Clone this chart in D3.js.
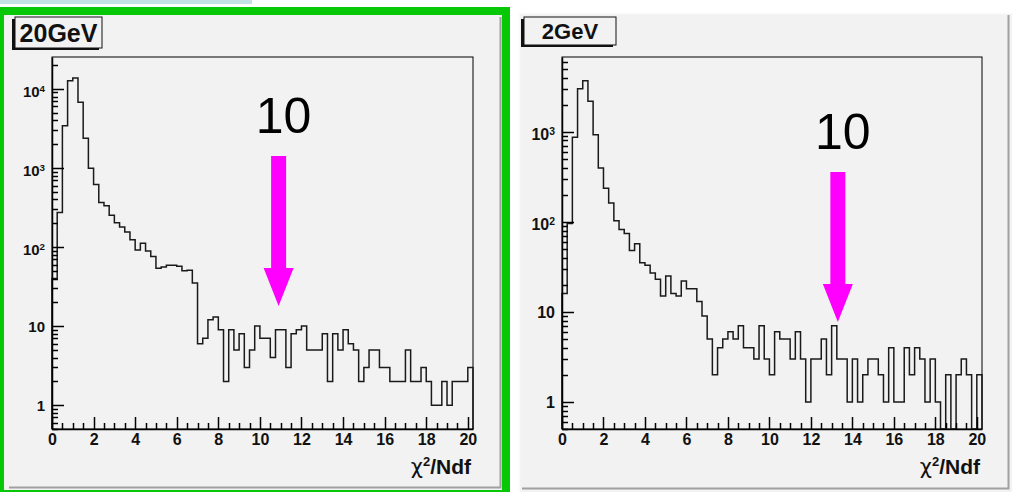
<!DOCTYPE html>
<html>
<head>
<meta charset="utf-8">
<script src="https://cdn.jsdelivr.net/npm/d3@7"></script>
<style>
  body { margin: 0; background: #fff; }
  svg { display: block; }
  text { font-family: "Liberation Sans", Arial, Helvetica, sans-serif; }
</style>
</head>
<body>
<svg id="chart" width="1012" height="492"></svg>
<script>
// histogram binning (chi2/Ndf), 81 bins of 0.25
var binStart = 0;
var binWidth = 0.25;

// bin contents
var counts20GeV = [40, 273, 3430, 12700, 13700, 6770, 2380, 994, 617, 365,
  332, 253, 203, 179, 155, 124, 92, 112, 89, 76,
  54, 56, 59, 59, 57, 50, 51, 35, 6, 7,
  12, 13, 9, 2, 9, 5, 8, 3, 5, 10,
  7, 7, 4, 9, 9, 3, 8, 9, 10, 5,
  5, 5, 8, 2, 8, 5, 9, 6, 5, 2,
  3, 5, 5, 3, 3, 2, 2, 2, 5, 2,
  2, 3, 2, 1, 1, 2, 1, 2, 2, 2, 3];

var counts2GeV = [16, 96, 866, 3000, 3690, 2180, 927, 395, 235, 162,
  103, 82, 74, 48, 57, 35, 33, 27, 23, 15,
  25, 16, 15, 22, 18, 18, 13, 9, 5, 2,
  4, 5, 6, 5, 7, 4, 4, 3, 7, 3,
  2, 6, 5, 5, 3, 6, 3, 1, 3, 3,
  5, 2, 7, 3, 3, 1, 3, 1, 2, 3,
  3, 2, 1, 4, 1, 1, 4, 2, 4, 3,
  1, 3, 1, 0, 2, 0, 2, 3, 2, 0, 2];

var xTicks = [0, 2, 4, 6, 8, 10, 12, 14, 16, 18, 20];
var yTicks20GeV = [1, 10, 100, 1000, 10000];
var yTicks2GeV = [1, 10, 100, 1000];
var titles = ["20GeV", "2GeV"];
var cutLabel = "10";
var cutArrowX = [10.9, 13.3];       // where the arrows point, chi2/Ndf
var cutArrowTip = [18, 7.7];        // arrow tip height, in counts

var nBins = counts20GeV.length;
var xMax = binStart + nBins * binWidth;
var yMin = 0.5;
var ink = "#000";

var svg = d3.select("#chart");

// page decoration
svg.append("rect").attr("x", 0).attr("y", 0).attr("width", 252).attr("height", 4).attr("fill", "#c4e2e4");
// left panel with green highlight frame
svg.append("rect").attr("x", 0).attr("y", 7).attr("width", 510).attr("height", 485).attr("fill", "#06c806");
svg.append("rect").attr("x", 4).attr("y", 15).attr("width", 498).attr("height", 475).attr("fill", "#f2f2f2");
svg.append("path").attr("d", "M9,487.5H500.5V17").attr("fill", "none").attr("stroke", "#a0a0a0").attr("stroke-width", 2);
// right panel
svg.append("rect").attr("x", 519).attr("y", 13).attr("width", 493).attr("height", 479).attr("fill", "#f2f2f2");
svg.append("path").attr("d", "M519.5,492V13.5H1012").attr("fill", "none").attr("stroke", "#fbfbfb").attr("stroke-width", 1.5);
svg.append("path").attr("d", "M522,488.5H1008.5V15").attr("fill", "none").attr("stroke", "#a0a0a0").attr("stroke-width", 2);

var panels = [
  { title: titles[0], counts: counts20GeV, yTicks: yTicks20GeV, yMax: 25300,
    left: 52, right: 473, top: 57, bottom: 429,
    box: { x: 15, y: 17, w: 87, h: 31, size: 25 }, yLabelSize: 15,
    arrowX: cutArrowX[0], arrowTip: cutArrowTip[0] },
  { title: titles[1], counts: counts2GeV, yTicks: yTicks2GeV, yMax: 6760,
    left: 562, right: 982, top: 57, bottom: 429,
    box: { x: 524, y: 17, w: 92, h: 28, size: 22 }, yLabelSize: 16,
    arrowX: cutArrowX[1], arrowTip: cutArrowTip[1] }
];

var tickJobs = [];
panels.forEach(function(p) { tickJobs.push(drawPanel(p)); });

// tick marks for both panels, on top of everything
var tickLayer = svg.append("g").attr("class", "ticklayer");
tickJobs.forEach(function(job) {
  tickLayer.append("g").selectAll("line")
    .data(job.marks)
    .enter().append("line")
    .attr("x1", function(d) { return d.x1; })
    .attr("y1", function(d) { return d.y1; })
    .attr("x2", function(d) { return d.x2; })
    .attr("y2", function(d) { return d.y2; })
    .style("stroke", "#000")
    .style("stroke-width", "1.5px");
});

function drawPanel(p) {
  var g = svg.append("g");

  var x = d3.scaleLinear().domain([binStart, xMax]).range([p.left, p.right]);
  var y = d3.scaleLog().domain([yMin, p.yMax]).range([p.bottom, p.top]);

  // frame
  g.append("rect")
    .attr("x", p.left).attr("y", p.top)
    .attr("width", p.right - p.left).attr("height", p.bottom - p.top)
    .attr("fill", "#f2f2f2").attr("stroke", ink).attr("stroke-width", 1);

  // histogram outline
  var pts = [[binStart, yMin]];
  p.counts.forEach(function(c, i) { pts.push([binStart + i * binWidth, Math.max(c, yMin)]); });
  pts.push([xMax, Math.max(p.counts[nBins - 1], yMin)]);
  pts.push([xMax, yMin]);

  var stepLine = d3.line()
    .x(function(d) { return x(d[0]); })
    .y(function(d) { return y(d[1]); })
    .curve(d3.curveStepAfter);

  g.append("path")
    .attr("d", stepLine(pts))
    .attr("fill", "none")
    .attr("stroke", "#1a1a1a")
    .attr("stroke-width", 1.5);

  // axis lines and labels
  var xa = g.append("g")
    .attr("transform", "translate(0," + p.bottom + ")")
    .call(d3.axisBottom(x).tickValues(xTicks).tickSize(0).tickPadding(5).tickFormat(d3.format("d")));
  xa.attr("font-size", 16).attr("font-weight", "bold").attr("font-family", null);
  xa.select(".domain").attr("stroke", ink).attr("stroke-width", 1.5);
  xa.selectAll(".tick text").attr("fill", "#111");

  var ya = g.append("g")
    .attr("transform", "translate(" + p.left + ",0)")
    .call(d3.axisLeft(y).tickValues(p.yTicks).tickSize(0).tickPadding(7).tickFormat(""));
  ya.attr("font-size", p.yLabelSize).attr("font-weight", "bold").attr("font-family", null);
  ya.select(".domain").attr("stroke", ink).attr("stroke-width", 1.5);
  ya.selectAll(".tick text").attr("fill", "#111").each(function(d) {
    var t = d3.select(this);
    var power = Math.round(Math.log10(d));
    if (power < 2) {
      t.attr("dy", "0.36em").text(d);
    } else {
      t.attr("dy", "0.5em");
      t.append("tspan").text("10");
      t.append("tspan").attr("dy", "-0.55em").attr("font-size", p.yLabelSize * 0.65).text(power);
    }
  });

  // axis title
  var at = g.append("text")
    .attr("x", p.right - 2).attr("y", 474)
    .attr("text-anchor", "end")
    .attr("font-size", 21).attr("font-weight", "bold").attr("fill", "#111");
  at.append("tspan").attr("font-weight", "normal").attr("font-family", "DejaVu Sans").text("\u03c7");
  at.append("tspan").attr("dy", -8).attr("font-size", 13).text("2");
  at.append("tspan").attr("dy", 8).text("/Ndf");

  // title box with shadow
  var b = p.box;
  g.append("rect").attr("x", b.x - 3).attr("y", b.y + 2).attr("width", b.w).attr("height", b.h).attr("fill", "#111");
  g.append("rect").attr("x", b.x).attr("y", b.y).attr("width", b.w).attr("height", b.h)
    .attr("fill", "#f2f2f2").attr("stroke", "#111").attr("stroke-width", 1);
  g.append("text")
    .attr("x", b.x + b.w / 2).attr("y", b.y + b.h / 2)
    .attr("dy", "0.36em").attr("text-anchor", "middle")
    .attr("font-size", b.size).attr("font-weight", "bold").attr("fill", "#111")
    .text(p.title);

  // cut arrow
  var tx = x(p.arrowX), ty = y(p.arrowTip);
  var arrow = [
    [tx, ty], [tx - 15, ty - 38], [tx - 7.5, ty - 38], [tx - 7.5, ty - 150],
    [tx + 7.5, ty - 150], [tx + 7.5, ty - 38], [tx + 15, ty - 38]
  ];
  g.append("path")
    .attr("d", "M" + arrow.join("L") + "Z")
    .attr("fill", "#ff00ff");

  g.append("text")
    .attr("x", tx + 5).attr("y", ty - 173)
    .attr("text-anchor", "middle")
    .attr("font-size", 50).attr("fill", "#000")
    .text(cutLabel);

  // tick positions from the scales, drawn later on the top layer
  var minorX = d3.range(binStart, xMax, 0.5).filter(function(v) { return v % 2 !== 0; });
  var minorY = [];
  for (var ex = -1; ex <= 4; ex++) {
    for (var m = 2; m <= 9; m++) {
      var mv = m * Math.pow(10, ex);
      if (mv >= yMin && mv <= p.yMax) minorY.push(mv);
    }
  }
  var marks = [];
  xTicks.forEach(function(v) { var px = Math.round(x(v)) + 0.5; marks.push({ x1: px, x2: px, y1: p.bottom, y2: p.bottom - 12 }); });
  minorX.forEach(function(v) { var px = Math.round(x(v)) + 0.5; marks.push({ x1: px, x2: px, y1: p.bottom, y2: p.bottom - 6 }); });
  p.yTicks.forEach(function(v) { var py = Math.round(y(v)) + 0.5; marks.push({ x1: p.left, x2: p.left + 12, y1: py, y2: py }); });
  minorY.forEach(function(v) { var py = Math.round(y(v)) + 0.5; marks.push({ x1: p.left, x2: p.left + 6, y1: py, y2: py }); });

  return { marks: marks };
}
</script>
</body>
</html>
